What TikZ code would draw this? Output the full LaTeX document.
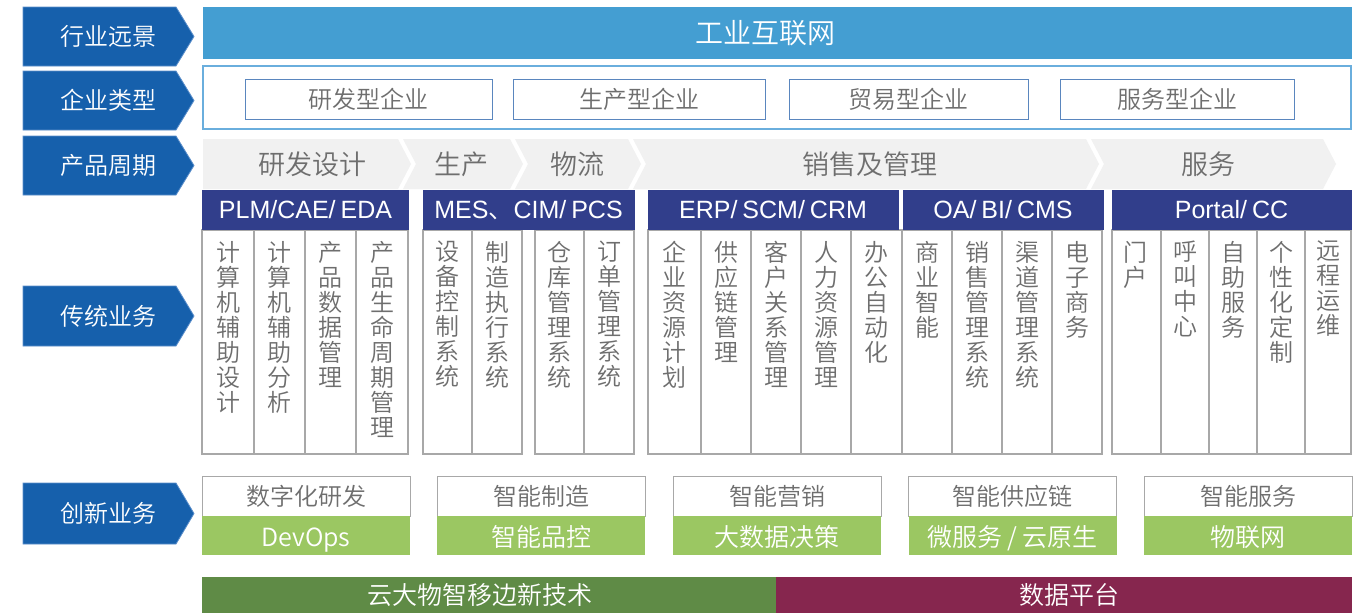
\documentclass[tikz,border=0pt]{standalone}
\usepackage{fontspec}
\setmainfont{Liberation Sans}
\newfontfamily\cjk{Noto Sans CJK SC}[UprightFont={* DemiLight}]
\newfontfamily\lat{Liberation Sans}
\definecolor{chevblue}{HTML}{1660AC}
\definecolor{chevedge}{HTML}{5C8FCB}
\definecolor{topblue}{HTML}{449ED2}
\definecolor{entouter}{HTML}{6AAEDD}
\definecolor{entinner}{HTML}{5A86BE}
\definecolor{navy}{HTML}{313E8B}
\definecolor{pgray}{HTML}{F1F1F1}
\definecolor{txtgray}{HTML}{6E6E6E}
\definecolor{colgray}{HTML}{A8A8A8}
\definecolor{lgreen}{HTML}{9BC762}
\definecolor{dgreen}{HTML}{5F8B46}
\definecolor{maroon}{HTML}{86264E}
\newcommand\hdrfont{\lat\fontsize{25}{25}\selectfont\spaceskip=5pt\relax}
\newcommand\pseg[2]{\fill[pgray] (#1,139) -- (#2,139) -- ({#2+13},164) -- (#2,189) -- (#1,189) -- ({#1+13},164) -- cycle;}
\newcommand\lchev[2]{\fill[chevblue,draw=chevedge,line width=0.8pt] (23,#1) -- (176,#1) -- (194,{(#1+#2)/2}) -- (176,#2) -- (23,#2) -- cycle;}
\begin{document}
\begin{tikzpicture}[x=1pt,y=-1pt,
  lab/.style={text=white,font=\cjk\fontsize{24}{24}\selectfont,inner sep=0},
  ptxt/.style={text=txtgray,font=\cjk\fontsize{27}{27}\selectfont,inner sep=0},
  entbox/.style={draw=entinner,line width=1pt,fill=white,minimum height=40,text=txtgray,font=\cjk\fontsize{24}{24}\selectfont,inner sep=0},
  hdr/.style={fill=navy,text=white,font=\hdrfont,minimum height=40,inner sep=0},
  colbox/.style={draw=colgray,line width=1.3pt,fill=white},
  colline/.style={draw=colgray,line width=1.3pt},
  colt/.style={text=txtgray,font=\cjk\fontsize{24}{25}\selectfont,align=center,anchor=north,inner sep=0},
  ibox/.style={draw=colgray,line width=1pt,fill=white,minimum width=208,minimum height=40,text=txtgray,font=\cjk\fontsize{24}{24}\selectfont,inner sep=0},
  gbox/.style={fill=lgreen,minimum width=208,minimum height=39,text=white,font=\cjk\fontsize{25}{25}\selectfont,inner sep=0,text height=23pt,text depth=2pt},
  btxt/.style={text=white,font=\cjk\fontsize{25}{25}\selectfont,inner sep=0}]
\useasboundingbox (0,0) rectangle (1368,613);
\fill[white] (0,0) rectangle (1368,613);
% left labels
\lchev{7}{66}   \node[lab] (lab1) at (108,36.5) {行业远景};
\lchev{71}{130} \node[lab] (lab2) at (108,100.5) {企业类型};
\lchev{136}{195}\node[lab] (lab3) at (108,165.5) {产品周期};
\lchev{286}{346}\node[lab] (lab4) at (108,316) {传统业务};
\lchev{483}{544}\node[lab] (lab5) at (108,513.5) {创新业务};
% top bar
\fill[topblue] (203,7) rectangle (1352,59);
\node[text=white,font=\cjk\fontsize{28}{28}\selectfont,inner sep=0] (bar) at (765,33) {工业互联网};
% enterprise types
\draw[entouter,line width=1.2pt,fill=white] (203,66) rectangle (1351,129);
\node[entbox,minimum width=247] (e1) at (368.5,99) {研发型企业};
\node[entbox,minimum width=252] (e2) at (639,99) {生产型企业};
\node[entbox,minimum width=239] (e3) at (908.5,99) {贸易型企业};
\node[entbox,minimum width=234] (e4) at (1177,99) {服务型企业};
% product cycle
\fill[pgray] (203,139) -- (398,139) -- (411,164) -- (398,189) -- (203,189) -- cycle;
\pseg{403}{510}
\pseg{515}{628}
\pseg{633}{1086}
\pseg{1091}{1323}
\node[ptxt] (p1) at (312,164) {研发设计};
\node[ptxt] (p2) at (461,164) {生产};
\node[ptxt] (p3) at (577,164) {物流};
\node[ptxt] (p4) at (870,164) {销售及管理};
\node[ptxt] (p5) at (1208,164) {服务};
% traditional business boxes
\draw[colbox] (202,230) rectangle (408,454);
\foreach \x in {254,305,356} \draw[colline] (\x,230) -- (\x,454);
\draw[colbox] (423,230) rectangle (522,454);
\draw[colline] (472,230) -- (472,454);
\draw[colbox] (535,230) rectangle (634,454);
\draw[colline] (584,230) -- (584,454);
\draw[colbox] (648,230) rectangle (1102,454);
\foreach \x in {701,751,801,851,902,952,1002,1052} \draw[colline] (\x,230) -- (\x,454);
\draw[colbox] (1112,230) rectangle (1351,454);
\foreach \x in {1161,1209,1257,1305} \draw[colline] (\x,230) -- (\x,454);
% headers
\node[hdr,minimum width=207] (h1) at (305.5,210) {PLM/CAE/ EDA};
\node[hdr,minimum width=212] (h2) at (528.5,210) {MES{\cjk 、}CIM/ PCS};
\node[hdr,minimum width=251] (h3) at (773,210) {ERP/ SCM/ CRM};
\node[hdr,minimum width=201] (h4) at (1003,210) {OA/ BI/ CMS};
\node[hdr,minimum width=240] (h5) at (1231.5,210) {Portal/ CC};
% column texts
\foreach \xc/\t [count=\i] in {
  228/{计\\算\\机\\辅\\助\\设\\计},
  279.5/{计\\算\\机\\辅\\助\\分\\析},
  330.5/{产\\品\\数\\据\\管\\理},
  382/{产\\品\\生\\命\\周\\期\\管\\理},
  447.5/{设\\备\\控\\制\\系\\统},
  497/{制\\造\\执\\行\\系\\统},
  559.5/{仓\\库\\管\\理\\系\\统},
  609/{订\\单\\管\\理\\系\\统},
  674.5/{企\\业\\资\\源\\计\\划},
  726/{供\\应\\链\\管\\理},
  776/{客\\户\\关\\系\\管\\理},
  826/{人\\力\\资\\源\\管\\理},
  876.5/{办\\公\\自\\动\\化},
  927/{商\\业\\智\\能},
  977/{销\\售\\管\\理\\系\\统},
  1027/{渠\\道\\管\\理\\系\\统},
  1077/{电\\子\\商\\务},
  1135/{门\\户},
  1185/{呼\\叫\\中\\心},
  1233/{自\\助\\服\\务},
  1281/{个\\性\\化\\定\\制},
  1328/{远\\程\\运\\维}}
  \node[colt] (c\i) at (\xc,241) {\t};
% innovation
\node[ibox] (i1) at (306,496) {数字化研发};
\node[ibox] (i2) at (541,496) {智能制造};
\node[ibox] (i3) at (777,496) {智能营销};
\node[ibox] (i4) at (1012.5,496) {智能供应链};
\node[ibox] (i5) at (1248,496) {智能服务};
\node[gbox] (g1) at (306,535.5) {DevOps};
\node[gbox] (g2) at (541,535.5) {智能品控};
\node[gbox] (g3) at (777,535.5) {大数据决策};
\node[gbox] (g4) at (1012.5,535.5) {微服务 / 云原生};
\node[gbox] (g5) at (1248,535.5) {物联网};
% bottom bar
\fill[dgreen] (202,577) rectangle (776,613);
\fill[maroon] (776,577) rectangle (1352,613);
\node[btxt] (t1) at (480,595) {云大物智移边新技术};
\node[btxt] (t2) at (1069,595) {数据平台};
\end{tikzpicture}
\end{document}
